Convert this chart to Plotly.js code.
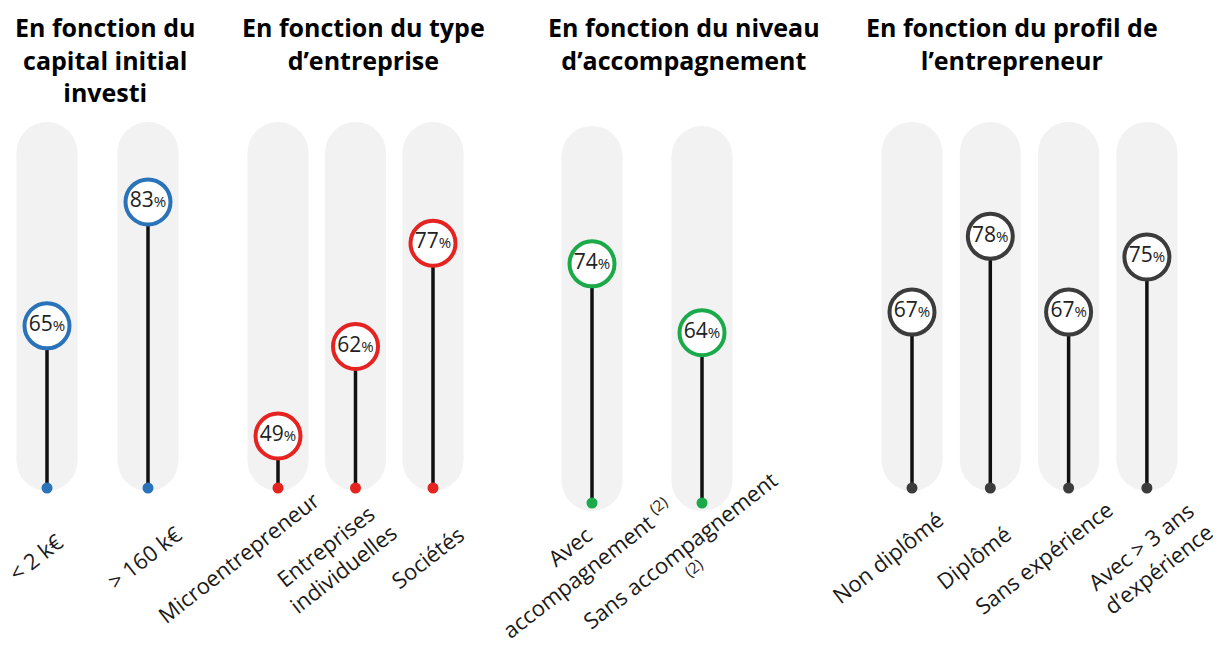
<!DOCTYPE html>
<html>
<head>
<meta charset="utf-8">
<script src="https://cdn.plot.ly/plotly-3.0.1.min.js"></script>
<style>html,body{margin:0;padding:0;background:#fff;}#chart{width:1219px;height:650px;}</style>
</head>
<body>
<div id="chart"></div>
<script>
// ---- data ----
const groupTitles = [
  "En fonction du<br>capital initial<br>investi",
  "En fonction du type<br>d’entreprise",
  "En fonction du niveau<br>d’accompagnement",
  "En fonction du profil de<br>l’entrepreneur"
];
const catsCapital = ["< 2 k€", "> 160 k€"];
const valsCapital = [65, 83];
const catsType = ["Microentrepreneur", "Entreprises<br>individuelles", "Sociétés"];
const valsType = [49, 62, 77];
const catsAccomp = ["Avec<br>accompagnement <sup>(2)</sup>", "Sans accompagnement<br><sup>(2)</sup>"];
const valsAccomp = [74, 64];
const catsProfil = ["Non diplômé", "Diplômé", "Sans expérience", "Avec > 3 ans<br>d’expérience"];
const valsProfil = [67, 78, 67, 75];
const groupColors = ["#2a73b8", "#e52421", "#1aaa4a", "#3c3c3c"];

// ---- layout helpers ----
const W = 1219, H = 650;
const yPxTop = 100, yPxBot = 520;           // y-axis domain in pixels
const yRange = [36.8, 97.8];
function pyPaper(px) { return 1 - px / H; }
function pxToVal(px) { return yRange[0] + (yRange[1] - yRange[0]) * (yPxBot - px) / (yPxBot - yPxTop); }

const groups = [
  {cats: catsCapital, vals: valsCapital, ax: "x",  c0: 47,  s: 101,  dom: [0, 200],   pill: [122, 491], base: 488, titleX: 105, shifts: [-12, -4]},
  {cats: catsType,    vals: valsType,    ax: "x2", c0: 278, s: 77.5, dom: [235, 475], pill: [122, 491], base: 488, titleX: 363, shifts: [-40, -22, -6]},
  {cats: catsAccomp,  vals: valsAccomp,  ax: "x3", c0: 592, s: 110,  dom: [540, 760], pill: [126, 511], base: 503, titleX: 684, shifts: [-14, -17]},
  {cats: catsProfil,  vals: valsProfil,  ax: "x4", c0: 912, s: 78.3, dom: [860, 1200],pill: [122, 491], base: 488, titleX: 1012, shifts: [-25, -17, -25, 2]}
];

const traces = [];
const shapes = [];
const annotations = [];
const layout = {
  width: W, height: H,
  margin: {l: 0, r: 0, t: 0, b: 0},
  paper_bgcolor: "#ffffff", plot_bgcolor: "rgba(0,0,0,0)",
  showlegend: false,
  font: {family: "Open Sans, Noto Sans, sans-serif", color: "#1a1a1a"},
  yaxis: {domain: [pyPaper(yPxBot), pyPaper(yPxTop)], range: yRange, visible: false, fixedrange: true}
};

groups.forEach((g, gi) => {
  const n = g.cats.length;
  const axName = gi === 0 ? "xaxis" : "xaxis" + (gi + 1);
  layout[axName] = {
    domain: [g.dom[0] / W, g.dom[1] / W],
    range: [(g.dom[0] - g.c0) / g.s, (g.dom[1] - g.c0) / g.s],
    visible: false, fixedrange: true, anchor: "y"
  };
  const idx = g.cats.map((_, i) => i);
  const baseVal = pxToVal(g.base);
  const r = 30.5;
  const capTop = pxToVal(g.pill[0] + r), capBot = pxToVal(g.pill[1] - r);
  idx.forEach(i => {
    const common = {xref: g.ax, yref: "y", xsizemode: "pixel", xanchor: i, fillcolor: "#f2f2f2", line: {width: 0}, layer: "below"};
    shapes.push(Object.assign({type: "rect", x0: -r, x1: r, y0: capBot, y1: capTop}, common));
    shapes.push(Object.assign({type: "circle", x0: -r, x1: r, ysizemode: "pixel", yanchor: capTop, y0: -r, y1: r}, common));
    shapes.push(Object.assign({type: "circle", x0: -r, x1: r, ysizemode: "pixel", yanchor: capBot, y0: -r, y1: r}, common));
    annotations.push({
      xref: g.ax, yref: "paper", x: i, y: pyPaper(557), xshift: g.shifts[i],
      xanchor: "center", yanchor: "middle", textangle: -38, showarrow: false, align: "center",
      text: g.cats[i], font: {size: 22, color: "#1a1a1a", family: "Open Sans, sans-serif"}
    });
  });
  // stems
  const sx = [], sy = [];
  idx.forEach(i => { sx.push(i, i, null); sy.push(baseVal, g.vals[i], null); });
  traces.push({type: "scatter", mode: "lines", x: sx, y: sy, xaxis: g.ax, yaxis: "y",
    line: {color: "#111111", width: 3.5}, hoverinfo: "skip", cliponaxis: false});
  // base dots
  traces.push({type: "scatter", mode: "markers", x: idx, y: idx.map(() => baseVal), xaxis: g.ax, yaxis: "y",
    marker: {size: 11, color: groupColors[gi], line: {width: 0}}, hoverinfo: "skip", cliponaxis: false});
  // value circles
  traces.push({type: "scatter", mode: "markers+text", x: idx, y: g.vals, xaxis: g.ax, yaxis: "y",
    text: g.vals.map(v => v + "<span style='font-size:15px'>%</span>"),
    textposition: "middle center",
    textfont: {size: 21, color: "#222222", family: "Open Sans, sans-serif"},
    marker: {size: 45, color: "#ffffff", line: {width: 4, color: groupColors[gi]}},
    hoverinfo: "skip", cliponaxis: false});
  annotations.push({
    xref: "paper", yref: "paper", x: g.titleX / W, y: pyPaper(8), xanchor: "center", yanchor: "top",
    showarrow: false, align: "center", text: groupTitles[gi],
    font: {size: 25, color: "#000000", family: "Open Sans, sans-serif", weight: 700}
  });
});

layout.shapes = shapes;
layout.annotations = annotations;

Plotly.newPlot("chart", traces, layout, {displayModeBar: false, staticPlot: true});
</script>
</body>
</html>
